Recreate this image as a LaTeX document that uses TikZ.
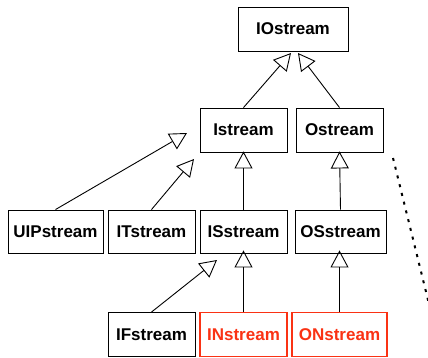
\documentclass[tikz,border=0pt]{standalone}
\usepackage{fontspec}
\setmainfont{Liberation Sans}
\usetikzlibrary{arrows.meta}
\definecolor{hired}{RGB}{250,50,20}
\tikzset{
  cls/.style={draw=black, line width=0.9pt, minimum height=44pt, inner sep=0pt, font=\fontsize{17}{19}\selectfont\bfseries, fill=white},
  redcls/.style={cls, draw=hired, text=hired, line width=1.8pt},
  inh/.style={draw=black, line width=0.9pt, -{Triangle[open, length=17pt, width=18pt, line width=0.9pt]}},
}
\begin{document}
\begin{tikzpicture}[x=1pt, y=-1pt]
\useasboundingbox (0,0) rectangle (428,358);
\node[cls, minimum width=110pt] (io) at (293,29) {IOstream};
\node[cls, minimum width=87pt] (is) at (243.5,130) {Istream};
\node[cls, minimum width=87pt] (os) at (339.5,130) {Ostream};
\node[cls, minimum width=95pt, minimum height=43pt] (uip) at (55.5,231.5) {UIPstream};
\node[cls, minimum width=87pt, minimum height=43pt] (it) at (151.5,231.5) {ITstream};
\node[cls, minimum width=87pt, minimum height=43pt] (iss) at (243.5,231.5) {ISstream};
\node[cls, minimum width=91pt, minimum height=43pt] (oss) at (340.5,231.5) {OSstream};
\node[cls, minimum width=87pt] (if) at (151.5,334.5) {IFstream};
\node[redcls, minimum width=87pt] (in) at (243.5,334.5) {INstream};
\node[redcls, minimum width=95pt] (on) at (339.5,334.5) {ONstream};
\coordinate (ioL) at (291,53);
\coordinate (ioR) at (298,53);
\coordinate (uipT) at (187,133);
\coordinate (itT) at (194,159);
\coordinate (ifT) at (217,260);
\coordinate (dotA) at (393,158);
\coordinate (dotB) at (429,304);
\draw[inh] (is.north) -- (ioL);
\draw[inh] (os.north) -- (ioR);
\draw[inh] (uip.north) -- (uipT);
\draw[inh] (it.north) -- (itT);
\draw[inh] (iss.north) -- ([yshift=1pt]is.south);
\draw[inh] (oss.north) -- ([yshift=1pt]os.south);
\draw[inh] (if.north) -- (ifT);
\draw[inh] (in.north) -- ([yshift=3pt]iss.south);
\draw[inh] (on.north) -- ([yshift=3pt]on.north |- oss.south);
\draw[line width=2pt, dash pattern=on 3pt off 6pt] (dotA) -- (dotB);
\end{tikzpicture}
\end{document}
